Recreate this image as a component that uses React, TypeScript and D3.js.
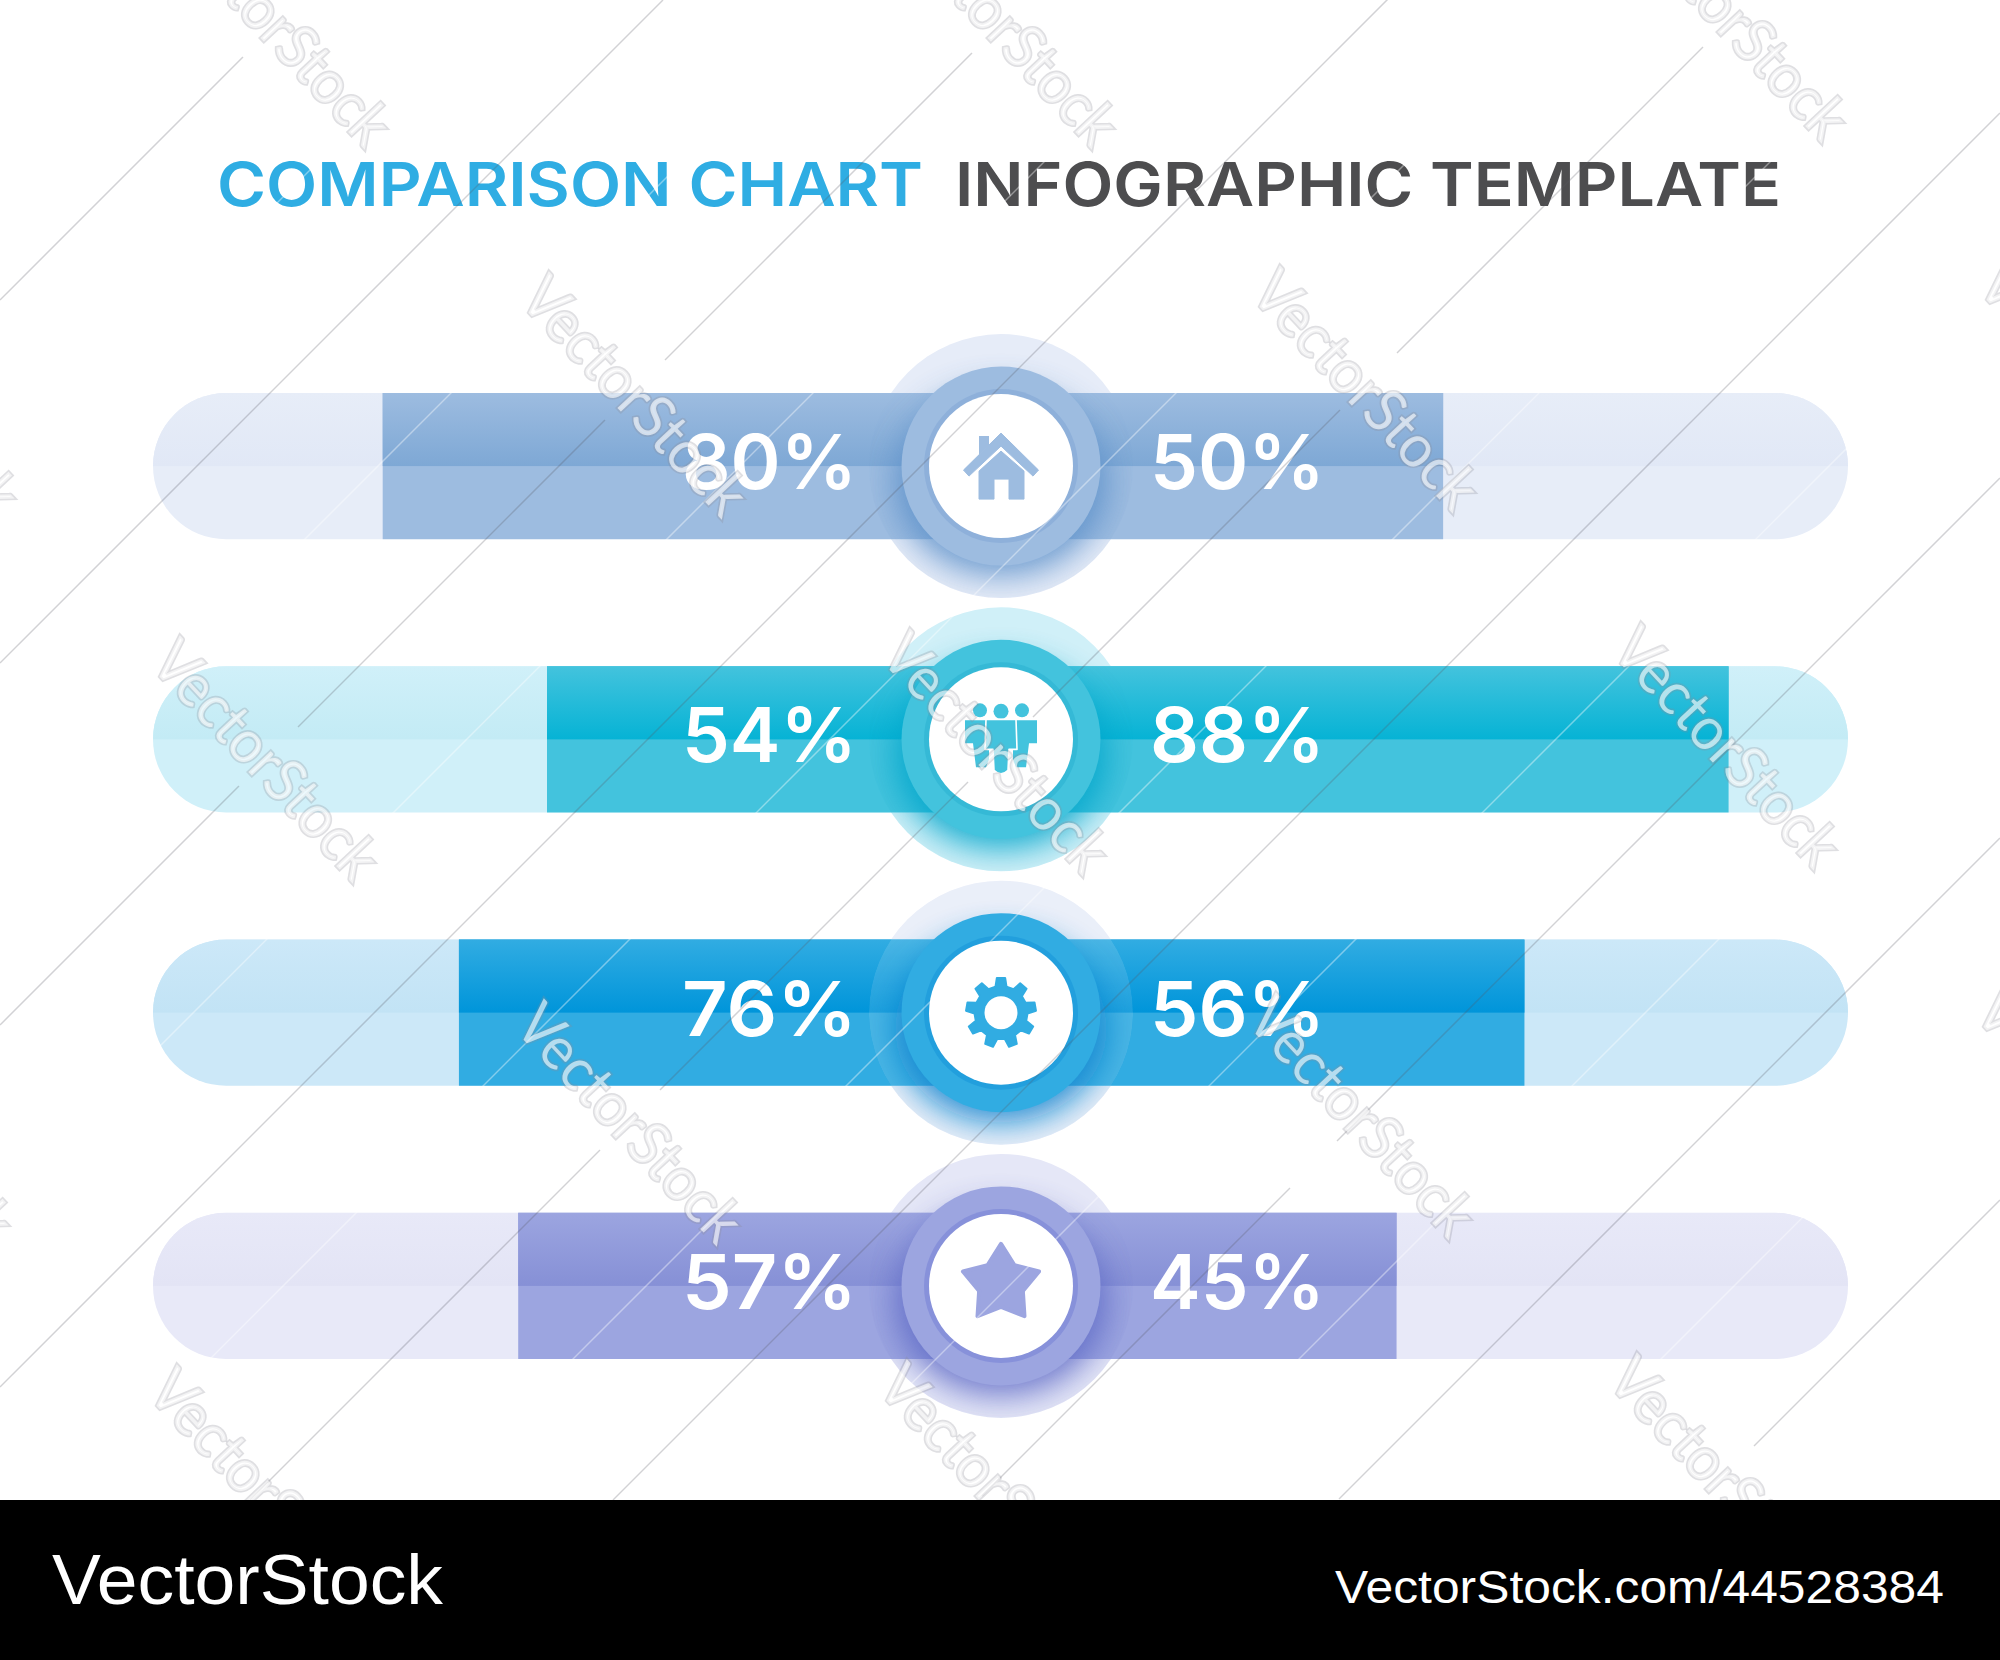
import * as d3 from 'd3';

// Valores
const rows = ['house', 'people', 'gear', 'star'];
const leftLabels = [80, 54, 76, 57];
const rightLabels = [50, 88, 56, 45];
// La longitud dibujada no coincide con la etiqueta, asi que va aparte (% de media pista)
const leftLengths = [73, 53.6, 64, 57];
const rightLengths = [52.2, 85.9, 61.8, 46.7];

const trackTop = ['#e1e8f6', '#c3ebf5', '#c2e3f5', '#e3e4f5'];
const trackBottom = ['#e7edf8', '#d0f0f9', '#cce8f8', '#e8e9f8'];
const barMain = ['#9dbce0', '#43c3dd', '#31ace2', '#9ca5e0'];
const barDark = ['#7ea8d5', '#06b3d5', '#0095da', '#8690d6'];
const ringInner = ['#8eb0da', '#35b9d6', '#229fdd', '#8791da'];
const shadowColors = ['#5c90c9', '#04a5ca', '#0a84cf', '#5f6bc6'];
const haloColors = ['#e6ecf8', '#d0f0f8', '#e8edf9', '#e5e7f7'];

const titleLeft = 'COMPARISON CHART';
const titleRight = 'INFOGRAPHIC TEMPLATE';

// Marca de agua: lineas x + y = suma, con sus tramos en x
const darkLines: [number, [number, number][]][] = [
  [300, [[0, 243]]],
  [663, [[0, 663]]],
  [1025, [[0, 239], [298, 605], [665, 972]]],
  [1387, [[0, 1388]]],
  [1750, [[250, 600], [660, 968], [1033, 1340], [1397, 1703]]],
  [2113, [[613, 2000]]],
  [2478, [[982, 1290], [1337, 2000]]],
  [2838, [[1339, 2000]]],
  [3200, [[1754, 2000]]],
];
const lightSums = [480, 844, 1206, 1569, 1932, 2295, 2658, 3020];
const stampStarts: [number, number][] = [
  [168, -96], [895, -96], [1625, -102],
  [-204, 274], [525, 274], [1256, 268], [1983, 261],
  [156, 638], [886, 631], [1617, 625],
  [-210, 1001], [520, 1001], [1252, 995], [1980, 988],
  [153, 1367], [883, 1362], [1613, 1355],
];

const W = 2000;
const H = 1660;
const cx = 1001;
const bandTop = 1500;

const y = d3.scaleBand<string>().domain(rows).range([393, 1359]).paddingInner(0.465);
const halfTrack = d3.scaleLinear().domain([0, 100]).range([0, 847]);

const lineRadial = d3.lineRadial<[number, number]>().curve(d3.curveLinearClosed);

// Engranaje de 9 dientes
const gearPoints: [number, number][] = d3.range(9).flatMap((i) => {
  const a = (i * 2 * Math.PI) / 9;
  const t = (2 * Math.PI) / 9;
  return [
    [a - t * 0.3, 26.5],
    [a - t * 0.17, 35],
    [a + t * 0.17, 35],
    [a + t * 0.3, 26.5],
  ] as [number, number][];
});

const starPoints: [number, number][] = d3.range(10).map((i) => [
  (i * Math.PI) / 5,
  i % 2 === 0 ? 40 : 23,
]);

const Icon = ({ name, color }: { name: string; color: string }) => {
  if (name === 'house') {
    return (
      <g fill={color}>
        <path d="M-37.5,4 L0,-33 L37.5,4 L32,10 L0,-20 L-32,10 Z" strokeLinejoin="round" stroke={color} strokeWidth={1} />
        <path d="M-22,-30 H-12 V-21 L-22,-11 Z" />
        <path d="M0,-15 L23,5 V33 H8 V13 H-7 V33 H-22 V5 Z" strokeLinejoin="round" stroke={color} strokeWidth={1} />
      </g>
    );
  }
  if (name === 'people') {
    return (
      <g fill={color}>
        <circle cx={-21} cy={-29} r={7} />
        <circle cx={21} cy={-29} r={7} />
        <path d="M-36,-19 H-12 V20 L-15,28 H-25 L-28,4 H-36 Z" />
        <path d="M36,-19 H12 V20 L15,28 H25 L28,4 H36 Z" />
        <circle cx={0} cy={-28} r={7.5} />
        <path
          d="M-15,-20 H15 L16,10 H8 L7,31 Q0,38 -7,31 L-8,10 H-16 Z"
          stroke="#fff"
          strokeWidth={1.6}
          strokeLinejoin="round"
        />
      </g>
    );
  }
  if (name === 'gear') {
    return (
      <g>
        <path d={lineRadial(gearPoints) || ''} fill={color} stroke={color} strokeWidth={2} strokeLinejoin="round" />
        <circle r={16.5} fill="#fff" />
      </g>
    );
  }
  return (
    <path
      transform="translate(0,-2)"
      d={lineRadial(starPoints) || ''}
      fill={color}
      stroke={color}
      strokeWidth={4}
      strokeLinejoin="round"
    />
  );
};

const App = () => {
  const h = y.bandwidth();

  return (
    <svg
      width={W}
      height={H}
      viewBox={`0 0 ${W} ${H}`}
      style={{ position: 'absolute', left: 0, top: 0, display: 'block', background: '#fff' }}
    >
      <defs>
        <filter id="soft" x="-50%" y="-50%" width="200%" height="200%">
          <feGaussianBlur stdDeviation={16} />
        </filter>
        {rows.map((r, i) => (
          <g key={r}>
            <linearGradient id={`barGrad${i}`} x1="0" x2="0" y1="0" y2="1">
              <stop offset="0%" stopColor={barMain[i]} />
              <stop offset="100%" stopColor={barDark[i]} />
            </linearGradient>
            <linearGradient id={`trackGrad${i}`} x1="0" x2="0" y1="0" y2="1">
              <stop offset="0%" stopColor={trackBottom[i]} />
              <stop offset="100%" stopColor={trackTop[i]} />
            </linearGradient>
            <clipPath id={`trackClip${i}`}>
              <rect x={153} y={y(r)} width={1695} height={h} rx={h / 2} />
            </clipPath>
            <clipPath id={`haloClip${i}`}>
              <circle cx={cx} cy={(y(r) as number) + h / 2} r={132} />
            </clipPath>
          </g>
        ))}
      </defs>

      <text
        x={217}
        y={206}
        fontFamily="Inter"
        fontWeight={600}
        fontSize={61}
        fill="#2fade3"
        textLength={706}
        lengthAdjust="spacingAndGlyphs"
      >
        {titleLeft}
      </text>
      <text
        x={955}
        y={206}
        fontFamily="Inter"
        fontWeight={600}
        fontSize={61}
        fill="#4d4d4f"
        textLength={826}
        lengthAdjust="spacingAndGlyphs"
      >
        {titleRight}
      </text>

      {rows.map((r, i) => {
        const top = y(r) as number;
        const cy = top + h / 2;
        const left = cx - halfTrack(leftLengths[i]);
        const right = cx + halfTrack(rightLengths[i]);
        return (
          <g key={r}>
            <circle cx={cx} cy={cy} r={132} fill={haloColors[i]} />
            <rect x={153} y={top} width={1695} height={h} rx={h / 2} fill={trackBottom[i]} />
            <rect
              x={153}
              y={top}
              width={1695}
              height={h / 2}
              fill={`url(#trackGrad${i})`}
              clipPath={`url(#trackClip${i})`}
            />
            <rect x={left} y={top} width={right - left} height={h} fill={barMain[i]} />
            <rect x={left} y={top} width={right - left} height={h / 2} fill={`url(#barGrad${i})`} />

            <g clipPath={`url(#haloClip${i})`}>
              {i === 2 && <circle cx={cx} cy={cy} r={132} fill="#fff" opacity={0.12} />}
              <ellipse
                cx={cx}
                cy={cy + 16}
                rx={106}
                ry={94}
                fill={shadowColors[i]}
                opacity={0.88}
                filter="url(#soft)"
              />
            </g>

            <text
              x={682}
              y={cy + 23}
              fontFamily="Inter"
              fontWeight={600}
              fontSize={76}
              fill="#fff"
              textLength={175}
              lengthAdjust="spacingAndGlyphs"
            >
              {leftLabels[i]}%
            </text>
            <text
              x={1150}
              y={cy + 23}
              fontFamily="Inter"
              fontWeight={600}
              fontSize={76}
              fill="#fff"
              textLength={175}
              lengthAdjust="spacingAndGlyphs"
            >
              {rightLabels[i]}%
            </text>

            <circle cx={cx} cy={cy} r={99.5} fill={barMain[i]} />
            <circle cx={cx} cy={cy} r={77} fill={ringInner[i]} />
            <circle cx={cx} cy={cy} r={72} fill="#fff" />
            <g transform={`translate(${cx},${cy})`}>
              <Icon name={r} color={barMain[i]} />
            </g>
          </g>
        );
      })}

      {/* Marca de agua */}
      <g stroke="#fff" strokeOpacity={0.4} strokeWidth={1.5}>
        {lightSums.map((s) => (
          <line key={s} x1={0} y1={s} x2={s} y2={0} />
        ))}
      </g>
      <g stroke="#5a5a64" strokeOpacity={0.27} strokeWidth={1.5}>
        {darkLines.flatMap(([s, segs]) =>
          segs.map(([a, b]) => <line key={`${s}-${a}`} x1={a} y1={s - a} x2={b} y2={s - b} />)
        )}
      </g>
      <g fontFamily="Lato" fontSize={60} textAnchor="middle">
        {stampStarts.map(([sx, sy]) => (
          <text
            key={`${sx}-${sy}`}
            transform={`translate(${sx + 110},${sy + 122}) rotate(47)`}
            dy="0.35em"
            fill="#fff"
            fillOpacity={0.62}
            stroke="#8c8c96"
            strokeOpacity={0.28}
            strokeWidth={3.5}
            paintOrder="stroke"
            textLength={300}
            lengthAdjust="spacingAndGlyphs"
          >
            VectorStock
          </text>
        ))}
      </g>

      <rect x={0} y={bandTop} width={W} height={H - bandTop} fill="#000" />
      <text
        x={52}
        y={1604}
        fontFamily="Liberation Sans"
        fontSize={70}
        fill="#fff"
        textLength={391}
        lengthAdjust="spacingAndGlyphs"
      >
        VectorStock
      </text>
      <text
        x={1335}
        y={1603}
        fontFamily="Liberation Sans"
        fontSize={46}
        fill="#fff"
        textLength={609}
        lengthAdjust="spacingAndGlyphs"
      >
        VectorStock.com/44528384
      </text>
    </svg>
  );
};

export default App;
